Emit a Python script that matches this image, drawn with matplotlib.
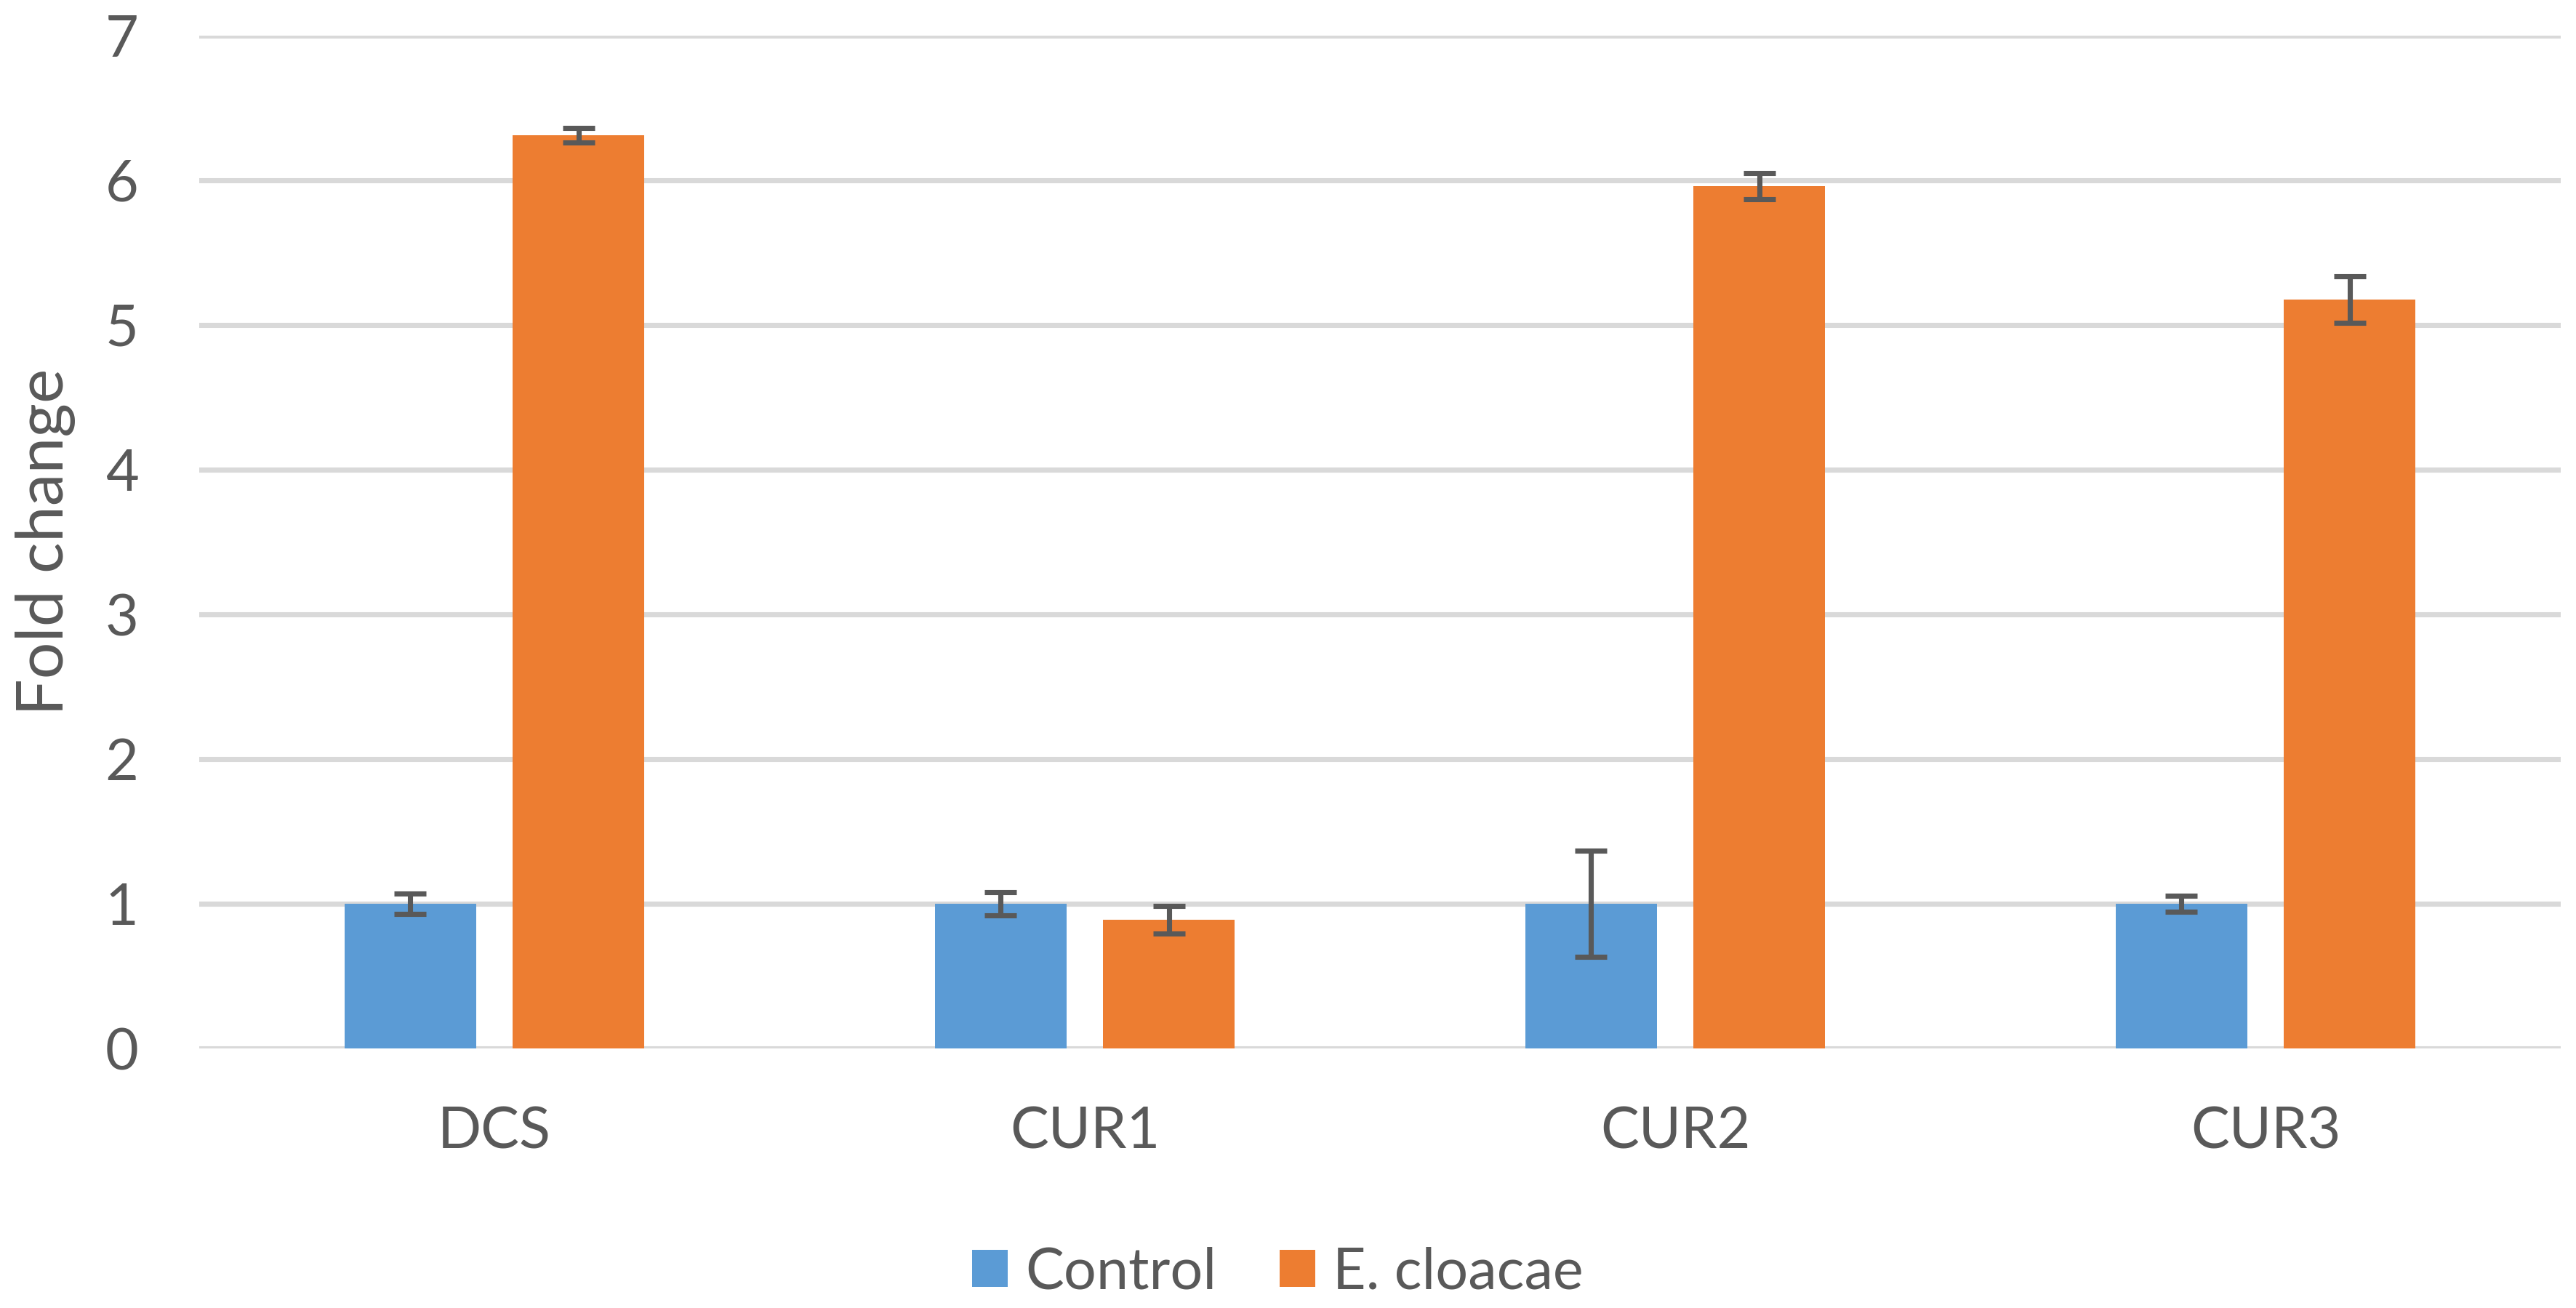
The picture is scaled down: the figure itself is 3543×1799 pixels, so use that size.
import numpy as np
import matplotlib
matplotlib.use("Agg")
import matplotlib.pyplot as plt

# data
genes = ["DCS", "CUR1", "CUR2", "CUR3"]
series = ["Control", "E. cloacae"]
control = [1.0, 1.0, 1.0, 1.0]
control_err = [0.07, 0.08, 0.367, 0.055]
cloacae = [6.31, 0.89, 5.96, 5.175]
cloacae_err = [0.05, 0.095, 0.09, 0.16]
yticks = [0, 1, 2, 3, 4, 5, 6, 7]

plt.rcParams['font.family'] = ['Lato', 'DejaVu Sans']
txt = '#595959'
blue = '#5B9BD5'
orange = '#ED7D31'

fig = plt.figure(figsize=(3543 / 300, 1799 / 300), dpi=300)
ax = fig.add_axes([0.0773, 0.1984, 0.9168, 0.7744])

x = np.arange(len(genes))
w = 0.223
off = 0.1425

# error bars: dark grey, short caps
ekw = dict(ecolor=txt, elinewidth=1.7, capsize=5.3, capthick=1.7)
ax.bar(x - off, control, w, color=blue, label=series[0], zorder=3,
       yerr=control_err, error_kw=ekw)
ax.bar(x + off, cloacae, w, color=orange, label=series[1], zorder=3,
       yerr=cloacae_err, error_kw=ekw)

ax.set_xlim(-0.5, len(genes) - 0.5)
ax.set_ylim(0, 7)
ax.set_yticks(yticks)
ax.set_xticks(x)
ax.set_xticklabels(genes)
ax.yaxis.grid(True, color='#d9d9d9', linewidth=1.7, zorder=0)
ax.set_axisbelow(True)
for s in ax.spines.values():
    s.set_visible(False)
ax.tick_params(axis='both', length=0, labelsize=19, labelcolor=txt)
ax.tick_params(axis='y', pad=20)
ax.tick_params(axis='x', pad=19)

ax.set_ylabel('Fold change', fontsize=21.5, color=txt, va='center')
ax.yaxis.set_label_coords(-0.0651, 0.5)

fig.legend(loc='center', bbox_to_anchor=(0.496, 0.027), ncol=2, frameon=False,
           fontsize=19, labelcolor=txt, handlelength=0.62, handleheight=0.62,
           handletextpad=0.3, columnspacing=1.1)

fig.savefig('out.png', dpi=300)
